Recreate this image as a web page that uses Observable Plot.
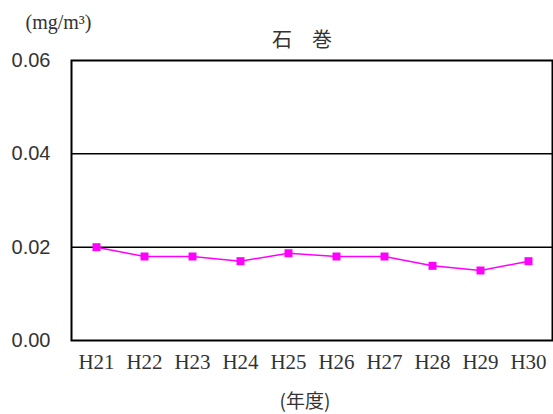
<!DOCTYPE html>
<html>
<head>
<meta charset="utf-8">
<script src="https://cdn.jsdelivr.net/npm/d3@7"></script>
<script src="https://cdn.jsdelivr.net/npm/@observablehq/plot@0.6"></script>
<style>
html,body{margin:0;padding:0;background:#fff;}
</style>
</head>
<body>
<div id="chart"></div>
<script>
const years = ["H21","H22","H23","H24","H25","H26","H27","H28","H29","H30"];
const values = [0.020,0.018,0.018,0.017,0.0187,0.018,0.018,0.016,0.015,0.017];
const yTicks = [0, 0.02, 0.04, 0.06];
const title = "石　巻";
const unitLabel = "(mg/m³)";
const xLabel = "(年度)";

const data = years.map((y,i)=>({year:y, value:values[i]}));
const serif = "'Liberation Serif', 'DejaVu Serif', serif";
const sans = "'Liberation Sans', Arial, sans-serif";
const cjk = "'Noto Sans CJK JP', sans-serif";

const chart = Plot.plot({
  width: 553,
  height: 414,
  marginLeft: 71,
  marginRight: 1,
  marginTop: 60,
  marginBottom: 74,
  style: {fontFamily: serif, fontSize: "21px", color: "#333", background: "#fff"},
  x: {type: "point", domain: years, padding: 0.5, label: null, tickSize: 0, tickPadding: 14},
  y: {domain: [0, 0.06], ticks: yTicks, tickFormat: d3.format(".2f"), label: null, tickSize: 0, tickPadding: 21},
  marks: [
    Plot.ruleY(yTicks.filter(d => d > 0 && d < 0.06), {stroke: "#000", strokeWidth: 1.5}),
    Plot.frame({stroke: "#000", strokeWidth: 2}),
    Plot.axisY({ticks: yTicks, tickFormat: d3.format(".2f"), tickSize: 0, tickPadding: 21, fontFamily: sans, fontSize: 20, label: null}),
    Plot.line(data, {x: "year", y: "value", stroke: "#ff00ff", strokeWidth: 1.5}),
    Plot.dot(data, {x: "year", y: "value", symbol: "square", r: 4.5, fill: "#ff00ff", stroke: "none"}),
    Plot.text([title], {frameAnchor: "top", lineAnchor: "middle", dy: -20, dx: -10, fontFamily: cjk, fontSize: 20, fill: "#333"}),
    Plot.text([unitLabel], {frameAnchor: "top-left", lineAnchor: "middle", dx: -46, dy: -38, textAnchor: "start", fontFamily: serif, fontSize: 20, fill: "#333"}),
    Plot.text([xLabel], {frameAnchor: "bottom", lineAnchor: "middle", dy: 61, dx: -7, fontFamily: cjk, fontSize: 19, letterSpacing: "2px", fill: "#333"})
  ]
});
document.getElementById("chart").appendChild(chart);
</script>
</body>
</html>
